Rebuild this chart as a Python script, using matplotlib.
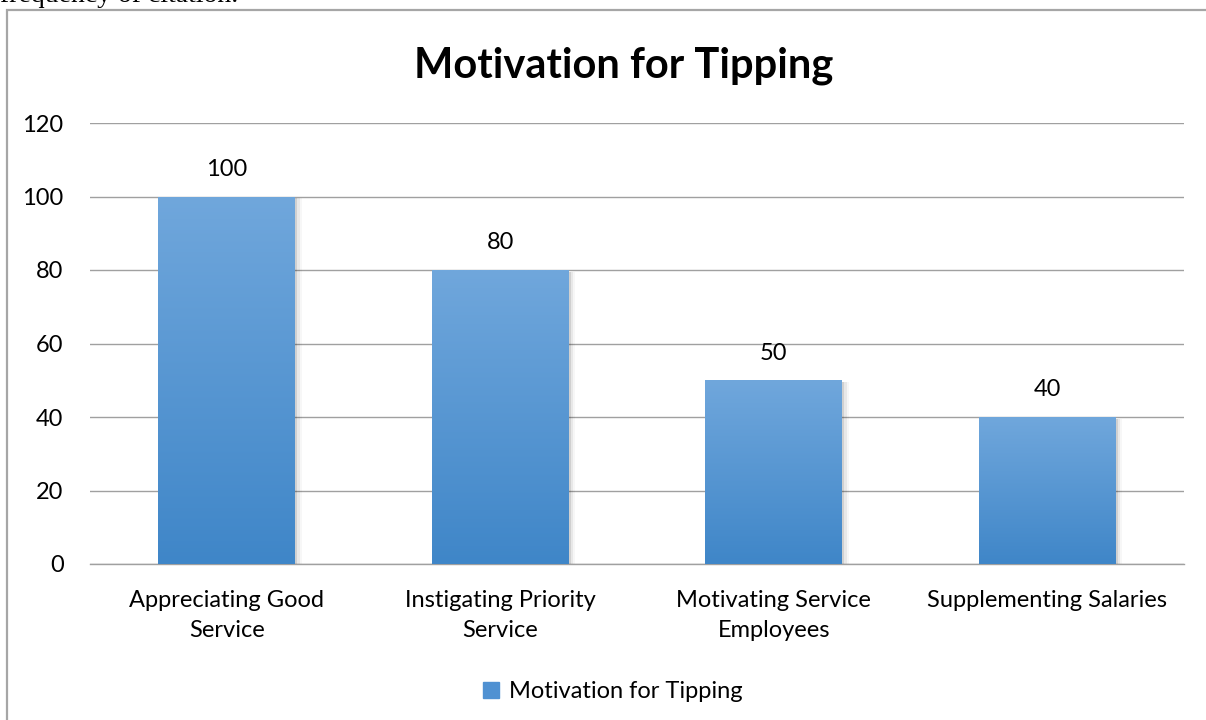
import matplotlib.pyplot as plt
import numpy as np
from matplotlib.colors import LinearSegmentedColormap
from matplotlib.patches import Rectangle

categories = ["Appreciating Good\nService", "Instigating Priority\nService",
              "Motivating Service\nEmployees", "Supplementing Salaries"]
values = [100, 80, 50, 40]
series_name = "Motivation for Tipping"
y_ticks = [0, 20, 40, 60, 80, 100, 120]

plt.rcParams['font.family'] = ['Lato', 'DejaVu Sans']

fig = plt.figure(figsize=(12.06, 7.2), dpi=100)
W, H = 1206, 720

# plot area in pixels: x 90..1184, y 123..564 (from top)
ax = fig.add_axes([90 / W, 1 - 564 / H, (1184 - 90) / W, (564 - 123) / H])

x = np.arange(len(categories))
bars = ax.bar(x, values, width=0.5, color="#5b9bd5", zorder=3)

# gradient fill: lighter at top, darker at bottom
cmap = LinearSegmentedColormap.from_list("blue", ["#3f86c8", "#70a7dc"])
grad = np.linspace(0, 1, 256).reshape(-1, 1)
for b in bars:
    bx, by = b.get_x(), b.get_y()
    bw, bh = b.get_width(), b.get_height()
    # soft shadow to the right
    for i, a in enumerate([0.10, 0.06, 0.03]):
        ax.add_patch(Rectangle((bx + bw, by), 0.008 * (i + 1), bh - 0.5,
                               color="black", alpha=a, lw=0, zorder=2))
    im = ax.imshow(grad, extent=[bx, bx + bw, by, by + bh], origin="lower",
                   cmap=cmap, aspect="auto", zorder=4)
    im.set_clip_path(b)
    ax.text(bx + bw / 2, bh + 4.5, str(int(bh)), ha="center", va="bottom",
            fontsize=17, color="#000000", zorder=5)

ax.set_xlim(-0.5, len(categories) - 0.5)
ax.set_ylim(0, 120)
ax.set_yticks(y_ticks)
ax.set_xticks(x)
ax.set_xticklabels(categories, fontsize=17, linespacing=1.5)
ax.tick_params(axis="y", length=0, pad=19, labelsize=17)
ax.tick_params(axis="x", length=0, pad=19)
ax.grid(axis="y", color="#a0a0a0", linewidth=1.0, zorder=0)
for s in ["top", "right", "left"]:
    ax.spines[s].set_visible(False)
ax.spines["bottom"].set_color("#a0a0a0")
ax.spines["bottom"].set_linewidth(1.0)
ax.set_facecolor("none")

fig.text(624 / W, 1 - 66 / H, series_name, ha="center", va="center",
         fontsize=30, fontweight="bold", color="#000000")

# legend
fig.patches.append(Rectangle((483 / W, 1 - 698 / H), 16 / W, 16 / H,
                             transform=fig.transFigure, color="#4f91d2"))
fig.text(509 / W, 1 - 691 / H, series_name, ha="left", va="center",
         fontsize=17, color="#000000")

# chart frame (cropped from a document)
frame = Rectangle((7 / W, -0.1), 1.2, 1 - 10 / H + 0.1, transform=fig.transFigure,
                  fill=False, edgecolor="#a6a6a6", linewidth=1.6)
fig.patches.append(frame)

# cut-off text from the document above the chart
fig.text(0.0, 1 - 2 / H, "frequency of citation.", ha="left", va="baseline",
         fontsize=20, family="Liberation Serif", color="#000000")

fig.savefig("out.png", dpi=100)
